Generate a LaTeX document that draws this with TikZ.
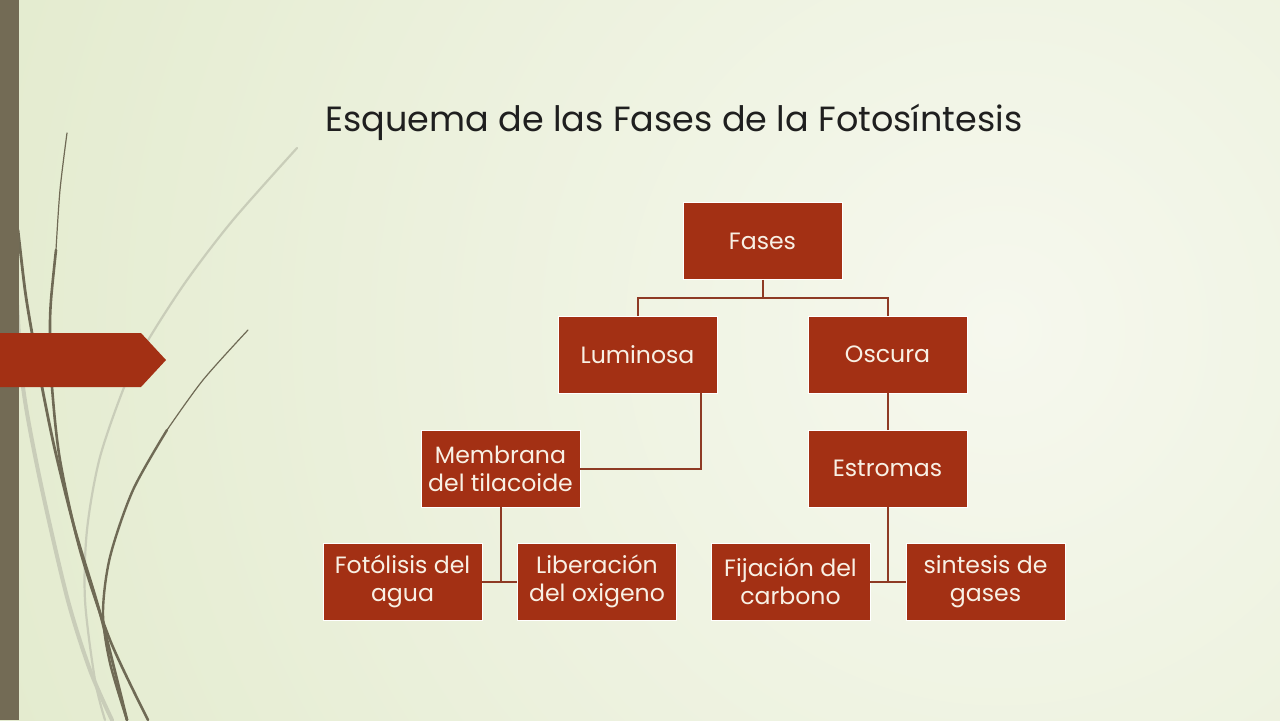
\documentclass[tikz,border=0pt]{standalone}
\usepackage{fontspec}
\setmainfont{Poppins}
\usetikzlibrary{calc}
\definecolor{boxred}{HTML}{A33014}
\definecolor{linkred}{HTML}{8E3A24}
\definecolor{barcol}{HTML}{736B55}
\definecolor{curvedark}{HTML}{6F6A55}
\definecolor{curvelight}{HTML}{C9CDB9}
\definecolor{bgin}{HTML}{F6F8EE}
\definecolor{bgout}{HTML}{DCE6C2}
\definecolor{boxtext}{HTML}{F8F0E4}
\tikzset{
  phase/.style={rectangle, fill=boxred, draw=white, line width=0.4pt,
    minimum width=79.5pt, minimum height=38.5pt, inner sep=0pt,
    text=boxtext, align=center, font=\fontsize{11.8}{14}\selectfont},
  link/.style={draw=linkred, line width=1pt},
  dark/.style={draw=curvedark, line cap=round},
  light/.style={draw=curvelight, line cap=round},
}
\begin{document}
\begin{tikzpicture}[x=0.5pt,y=-0.5pt]
\useasboundingbox (0,0) rectangle (1280,720);
% background
\begin{scope}
\clip (0,0) rectangle (1280,720);
\shade[inner color=bgin, outer color=bgout] (1000,330) circle (1500);
\end{scope}
% decorative curves
\draw[light, line width=2pt] plot[smooth] coordinates {(17,300) (23,387) (40,480) (67,597) (90,670) (112,720)};
\draw[light, line width=1.1pt] plot[smooth] coordinates {(297,148) (233,220) (187,280) (150,337) (127,380) (100,457) (87,530) (85,600) (95,680) (105,720)};
\draw[dark, line width=0.6pt] plot[smooth] coordinates {(67,133) (60,190) (56,250)};
\draw[dark, line width=1.3pt] plot[smooth] coordinates {(56,250) (51,300) (50,333) (52,387) (60,460) (80,550) (110,640) (148,720)};
\draw[dark, line width=1.4pt] plot[smooth] coordinates {(18,230) (25,290) (32,333) (42,387) (55,450) (75,530) (100,613) (127,720)};
\draw[dark, line width=0.6pt] plot[smooth] coordinates {(248,330) (203,380) (167,430)};
\draw[dark, line width=1.2pt] plot[smooth] coordinates {(167,430) (133,490) (110,557) (103,613) (110,663) (127,720)};
% left bar and arrow
\fill[barcol] (0,0) rectangle (19,720);
\fill[boxred] (0,333) -- (141,333) -- (166,360) -- (141,387) -- (0,387) -- cycle;
% title
\node[anchor=base, font=\fontsize{17.5}{21}\selectfont, text=black!88] (title) at (674,131) {Esquema de las Fases de la Fotosíntesis};
% boxes
\node[phase] (fases) at (762.5,241) {Fases};
\node[phase] (lum) at (637.5,354.5) {Luminosa};
\node[phase] (osc) at (887.5,354.5) {Oscura};
\node[phase] (mem) at (500.5,468.5) {Membrana\\del tilacoide};
\node[phase] (est) at (887.5,468.5) {Estromas};
\node[phase] (fot) at (402.5,581.5) {Fotólisis del\\agua};
\node[phase] (lib) at (597,581.5) {Liberación\\del oxigeno};
\node[phase] (fij) at (790.5,581.5) {Fijación del\\carbono};
\node[phase] (sin) at (985.5,581.5) {sintesis de\\gases};
% connectors
\coordinate (fbar) at ($(fases.south)+(0,18)$);
\draw[link] (fases.south) -- (fbar) -| (lum.north);
\draw[link] (fbar) -| (osc.north);
\coordinate (lumdrop) at ($(lum.south)+(63.5,0)$);
\draw[link] (lumdrop) |- (mem.east);
\draw[link] (osc.south) -- (est.north);
\draw[link] (mem.south) -- (mem.south |- fot.east);
\draw[link] (fot.east) -- (lib.west);
\draw[link] (est.south) -- (est.south |- fij.east);
\draw[link] (fij.east) -- (sin.west);
\end{tikzpicture}
\end{document}
